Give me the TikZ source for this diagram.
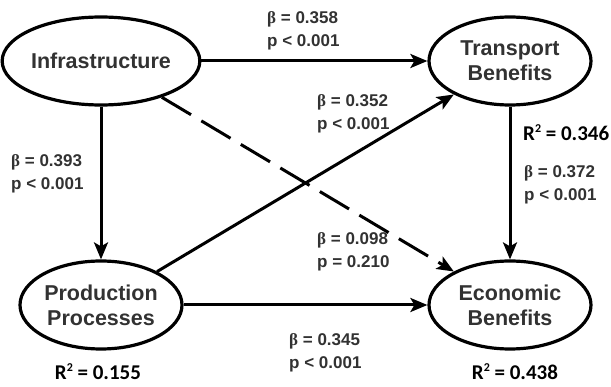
\documentclass[tikz,border=0pt]{standalone}
\usepackage{fontspec}
\setmainfont{Liberation Sans}
\newfontfamily\grkfont{Liberation Serif}
\newfontfamily\rsqfont{Carlito}
\usetikzlibrary{shapes.geometric,arrows.meta}

\definecolor{textgray}{RGB}{50,50,50}
\newcommand{\betasym}{{\grkfont\bfseries β}}
\newcommand{\rsquared}{R\raisebox{0.38em}{\fontsize{12}{12}\selectfont 2}}

\tikzset{
    construct/.style={ellipse, draw, line width=3.2pt, minimum width=162pt, minimum height=88pt,
        inner sep=0pt, align=center, text=textgray, font=\bfseries\fontsize{21.5}{25}\selectfont},
    link/.style={line width=3pt, -{Stealth[length=17pt,width=14pt,inset=4pt]}},
    coef/.style={anchor=west, align=left, inner sep=0pt, text=textgray, font=\bfseries\fontsize{17}{22.5}\selectfont},
    rsq/.style={inner sep=0pt, font=\rsqfont\bfseries\fontsize{21}{24}\selectfont}
}

\begin{document}
\begin{tikzpicture}[x=1pt, y=-1pt]
    \useasboundingbox (0,0) rectangle (611,387);

    % Constructs
    \node[construct] (infra) at (101,61) {Infrastructure};
    \node[construct] (transport) at (510,61) {Transport\\Benefits};
    \node[construct] (prod) at (101,305) {Production\\Processes};
    \node[construct] (econ) at (510,305) {Economic\\Benefits};

    % Paths
    \draw[link] (infra) -- (transport);
    \draw[link] (infra) -- (prod);
    \draw[link] (transport) -- (econ);
    \draw[link] (prod) -- (econ);
    \draw[link] (prod) -- (transport);
    \draw[link, dash pattern=on 34pt off 12pt] (infra) -- (econ);

    % Path coefficients
    \node[coef] (c358) at (267,31) {\betasym{} = 0.358\\p < 0.001};
    \node[coef] (c393) at (11,174) {\betasym{} = 0.393\\p < 0.001};
    \node[coef] (c352) at (317,114) {\betasym{} = 0.352\\p < 0.001};
    \node[coef] (c372) at (524,185) {\betasym{} = 0.372\\p < 0.001};
    \node[coef] (c098) at (317,252) {\betasym{} = 0.098\\p = 0.210};
    \node[coef] (c345) at (289,353) {\betasym{} = 0.345\\p < 0.001};

    % Explained variance
    \node[rsq, anchor=west] (r346) at (523,133) {\rsquared{} = 0.346};
    \node[rsq] (r155) at (98,372) {\rsquared{} = 0.155};
    \node[rsq] (r438) at (515,372) {\rsquared{} = 0.438};
\end{tikzpicture}
\end{document}
